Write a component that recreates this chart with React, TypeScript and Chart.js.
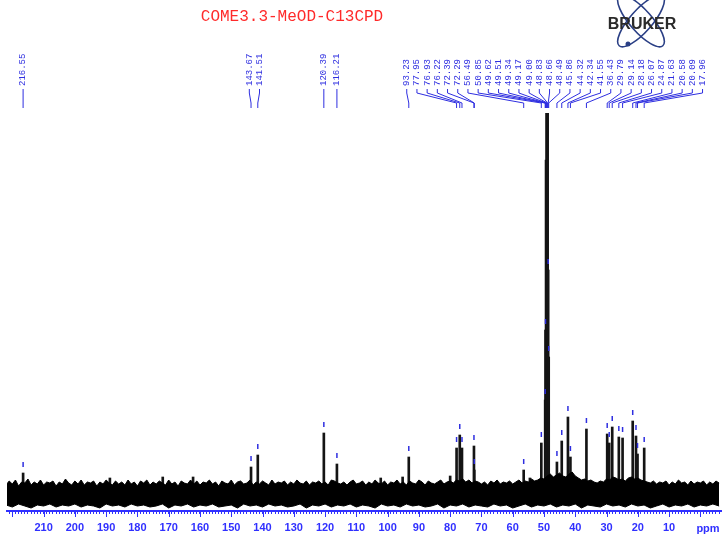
import React, { useEffect, useRef } from 'react';
import { Chart, registerables } from 'chart.js';

Chart.register(...registerables);

const TITLE = 'COME3.3-MeOD-C13CPD';
const AXIS_BLUE = '#3030ff';
const LABEL_BLUE = '#2e2ee0';

// peak positions (ppm) and heights (arbitrary units above baseline)
const peakPpm = [216.55, 143.67, 141.51, 120.39, 116.21, 93.23, 77.95, 76.93, 76.22, 72.39, 72.29, 56.49, 50.85,
  49.62, 49.51, 49.34, 49.17, 49.0, 48.83, 48.66, 48.49, 45.86, 44.32, 42.34, 41.55, 36.43, 29.79, 29.14, 28.18,
  26.07, 24.87, 21.63, 20.58, 20.09, 17.96];
const peakHeight = [21, 27, 39, 61, 30, 37, 46, 59, 46, 48, 24, 24, 51,
  94, 164, 334, 600, 700, 600, 224, 137, 32, 53, 77, 37, 65, 60, 51, 67,
  57, 56, 73, 58, 40, 46];

// small unlabelled spikes standing out of the noise
const spikePpm = [188.8, 171.9, 162.2, 102.2, 95.2, 80.0, 54.5];
const spikeHeight = [16, 17, 17, 16, 17, 18, 16];

const noiseTopStart = 222;
const noiseTopStep = 1;
const noiseTop = [
  9, 13, 10, 14, 8, 12, 11, 15, 9, 12,
  10, 14, 9, 12, 11, 13, 8, 12, 10, 15,
  11, 9, 13, 10, 14, 9, 12, 11, 13, 8,
  12, 10, 14, 11, 9, 13, 10, 12, 9, 14,
  10, 12, 8, 13, 11, 14, 9, 12, 10, 13,
  11, 9, 14, 10, 12, 8, 13, 11, 10, 14,
  10, 13, 9, 12, 11, 14, 10, 12, 8, 13,
  11, 10, 14, 9, 12, 13, 10, 11, 14, 9,
  12, 10, 13, 11, 9, 14, 10, 12, 11, 13,
  9, 12, 10, 14, 11, 10, 13, 9, 12, 11,
  13, 10, 12, 9, 14, 13, 11, 10, 12, 9,
  12, 14, 10, 11, 13, 9, 12, 10, 14, 11,
  10, 13, 9, 12, 11, 14, 10, 12, 9, 13,
  11, 10, 14, 12, 9, 13, 11, 10, 12, 14,
  10, 12, 13, 11, 14, 13, 15, 12, 14, 11,
  13, 12, 10, 12, 9, 13, 11, 14, 10, 12,
  11, 13, 10, 12, 14, 11, 13, 12, 15, 13,
  14, 16, 15, 18, 20, 17, 19, 21, 18, 17,
  20, 22, 18, 16, 14, 15, 13, 14, 12, 11,
  13, 12, 15, 14, 17, 16, 14, 15, 13, 16,
  17, 15, 16, 14, 13, 12, 11, 13, 10, 12,
  11, 13, 9, 12, 10, 14, 11, 12, 9, 13,
  10, 12, 11, 13, 9, 12, 10, 13, 11];
const noiseBottomStart = 222;
const noiseBottomStep = 2;
const noiseBottom = [
  -11, -13, -10, -12, -14, -11, -12, -10, -13, -11,
  -12, -10, -13, -11, -12, -14, -10, -12, -11, -13,
  -10, -12, -11, -13, -12, -10, -14, -11, -12, -10,
  -13, -11, -12, -10, -13, -12, -11, -14, -10, -12,
  -11, -13, -10, -12, -11, -13, -12, -10, -14, -11,
  -12, -10, -13, -11, -12, -10, -13, -11, -12, -14,
  -10, -12, -11, -13, -10, -12, -11, -13, -12, -10,
  -14, -11, -12, -10, -13, -11, -12, -13, -10, -12,
  -11, -14, -12, -10, -13, -11, -12, -10, -13, -11,
  -12, -10, -14, -11, -12, -13, -10, -12, -11, -13,
  -10, -12, -11, -14, -12, -10, -13, -11, -12, -10,
  -13, -11, -12, -10, -12];

const xMin = -6.6;
const xMax = 221.7;
const yMin = -17;
const yMax = 381;
const majorTicks = [0, 10, 20, 30, 40, 50, 60, 70, 80, 90, 100, 110, 120, 130, 140, 150, 160, 170, 180, 190, 200, 210, 220];
const labeledTicks = [10, 20, 30, 40, 50, 60, 70, 80, 90, 100, 110, 120, 130, 140, 150, 160, 170, 180, 190, 200, 210];

const decor = {
  id: 'decor',
  afterDraw(chart: any) {
    const ctx = chart.ctx as CanvasRenderingContext2D;
    const xs = chart.scales.x;
    const ys = chart.scales.y;
    const area = chart.chartArea;
    ctx.save();

    // title
    ctx.fillStyle = '#ff2a2a';
    ctx.font = '16px "Liberation Mono", monospace';
    ctx.textAlign = 'center';
    ctx.textBaseline = 'middle';
    ctx.fillText(TITLE, 292, 17);

    // logo
    ctx.strokeStyle = '#2a3f85';
    ctx.lineWidth = 1.6;
    ctx.beginPath();
    ctx.ellipse(641, 21, 33, 11, Math.PI * 0.27, 0, Math.PI * 2);
    ctx.stroke();
    ctx.beginPath();
    ctx.ellipse(641, 21, 33, 11, -Math.PI * 0.27, 0, Math.PI * 2);
    ctx.stroke();
    ctx.fillStyle = '#2a3f85';
    ctx.beginPath();
    ctx.arc(628, 44, 2.5, 0, Math.PI * 2);
    ctx.fill();
    ctx.fillStyle = '#2a2a2a';
    ctx.font = 'bold 16px "Liberation Sans", Arial, sans-serif';
    ctx.fillText('BRUKER', 642, 25);

    // major ticks
    ctx.strokeStyle = AXIS_BLUE;
    ctx.lineWidth = 1;
    majorTicks.forEach((v) => {
      if (v < xMin || v > xMax) return;
      const x = Math.round(xs.getPixelForValue(v)) + 0.5;
      ctx.beginPath();
      ctx.moveTo(x, area.bottom);
      ctx.lineTo(x, area.bottom + 6);
      ctx.stroke();
    });
    ctx.fillStyle = AXIS_BLUE;
    ctx.font = 'bold 11px "Liberation Sans", Arial, sans-serif';
    ctx.fillText('ppm', 708, 529);

    // peak labels
    const items = peakPpm
      .map((p, i) => ({ label: p.toFixed(2), px: xs.getPixelForValue(p), h: peakHeight[i] }))
      .sort((a, b) => a.px - b.px);
    const GAP = 10.2;
    let clusters = items.map((it) => ({ members: [it], center: it.px }));
    let merged = true;
    while (merged) {
      merged = false;
      for (let k = 0; k < clusters.length - 1; k++) {
        const a = clusters[k];
        const b = clusters[k + 1];
        const aRight = a.center + ((a.members.length - 1) * GAP) / 2;
        const bLeft = b.center - ((b.members.length - 1) * GAP) / 2;
        if (bLeft - aRight < GAP) {
          const members = a.members.concat(b.members);
          const center = members.reduce((s, m) => s + m.px, 0) / members.length;
          clusters.splice(k, 2, { members, center });
          merged = true;
          break;
        }
      }
    }
    ctx.strokeStyle = LABEL_BLUE;
    ctx.fillStyle = LABEL_BLUE;
    ctx.lineWidth = 1;
    ctx.font = '9px "Liberation Mono", monospace';
    clusters.forEach((c) => {
      const n = c.members.length;
      c.members.forEach((m, k) => {
        const lx = c.center + (k - (n - 1) / 2) * GAP;
        ctx.save();
        ctx.translate(lx, 86);
        ctx.rotate(-Math.PI / 2);
        ctx.textAlign = 'left';
        ctx.textBaseline = 'middle';
        ctx.fillText(m.label, 0, 0);
        ctx.restore();
        ctx.beginPath();
        ctx.moveTo(lx, 89);
        ctx.lineTo(lx, 93);
        ctx.lineTo(m.px, 103);
        ctx.lineTo(m.px, 108);
        ctx.stroke();
        const top = ys.getPixelForValue(m.h);
        if (top > area.top + 60) {
          ctx.save();
          ctx.lineWidth = 1.5;
          ctx.beginPath();
          ctx.moveTo(m.px, top - 11);
          ctx.lineTo(m.px, top - 6);
          ctx.stroke();
          ctx.restore();
        }
      });
    });
    ctx.restore();
  },
};

export default function App() {
  const ref = useRef<HTMLCanvasElement | null>(null);
  useEffect(() => {
    if (!ref.current) return;
    const barData = peakPpm
      .map((p, i) => ({ x: p, y: peakHeight[i] }))
      .concat(spikePpm.map((p, i) => ({ x: p, y: spikeHeight[i] })));
    const chart = new Chart(ref.current, {
      type: 'bar',
      data: {
        datasets: [
          {
            type: 'line',
            data: noiseTop.map((v, i) => ({ x: noiseTopStart - i * noiseTopStep, y: v })),
            borderColor: '#000',
            backgroundColor: '#000',
            borderWidth: 1,
            pointRadius: 0,
            fill: '+1',
            tension: 0,
          } as any,
          {
            type: 'line',
            data: noiseBottom.map((v, i) => ({ x: noiseBottomStart - i * noiseBottomStep, y: v })),
            borderColor: '#000',
            backgroundColor: '#000',
            borderWidth: 1,
            pointRadius: 0,
            fill: false,
            tension: 0,
          } as any,
          {
            type: 'bar',
            data: barData,
            backgroundColor: '#141414',
            borderWidth: 0,
            barThickness: 2,
            grouped: false,
          } as any,
        ],
      },
      options: {
        animation: false,
        responsive: false,
        devicePixelRatio: 1,
        layout: { padding: { left: 7, right: 1, top: 113, bottom: 3 } },
        plugins: { legend: { display: false }, tooltip: { enabled: false }, title: { display: false } },
        scales: {
          x: {
            type: 'linear',
            reverse: true,
            min: xMin,
            max: xMax,
            offset: false,
            afterFit: (s: any) => {
              s.paddingLeft = 0;
              s.paddingRight = 0;
              s.height = 24;
            },
            grid: { drawOnChartArea: false, drawTicks: true, tickLength: 3, color: AXIS_BLUE, lineWidth: 1, offset: false },
            border: { display: true, color: AXIS_BLUE, width: 2 },
            ticks: {
              stepSize: 1,
              autoSkip: false,
              includeBounds: false,
              maxRotation: 0,
              minRotation: 0,
              padding: 7,
              color: AXIS_BLUE,
              font: { family: '"Liberation Sans", Arial, sans-serif', size: 11, weight: 'bold' },
              callback: (v: any) => (labeledTicks.includes(Math.round(Number(v) * 100) / 100) ? String(Math.round(Number(v))) : ''),
            },
          },
          y: { type: 'linear', display: false, min: yMin, max: yMax },
        },
      } as any,
      plugins: [decor],
    });
    return () => chart.destroy();
  }, []);
  return (
    <div style={{ position: 'fixed', left: 0, top: 0, width: 722, height: 538, background: '#fff' }}>
      <canvas ref={ref} width={722} height={538} style={{ width: 722, height: 538, display: 'block' }} />
    </div>
  );
}
